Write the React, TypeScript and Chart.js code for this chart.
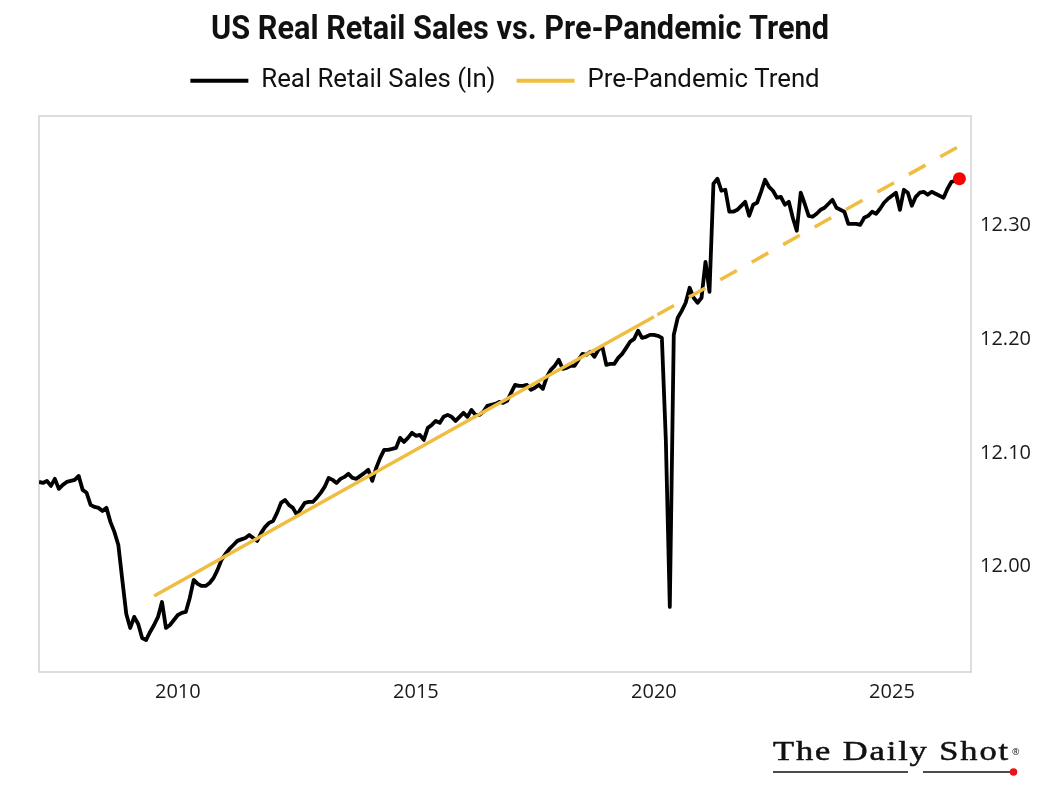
import React, { useEffect, useRef } from 'react';
import { Chart, registerables } from 'chart.js';

Chart.register(...registerables);

// ---------------- data ----------------
// Monthly series, first observation February 2007
const START_YEAR = 2007;
const START_MONTH = 2;

// ln(real retail sales), monthly
const realRetailSalesLn: number[] = [
  // 2007 (Feb-Dec)
  12.0745, 12.0736, 12.0754, 12.0710, 12.0772, 12.0684, 12.0719, 12.0745, 12.0754, 12.0763, 12.0798,
  // 2008
  12.0675, 12.0649, 12.0543, 12.0525, 12.0517, 12.0490, 12.0517, 12.0394, 12.0306, 12.0191, 11.9884, 11.9585,
  // 2009
  11.9462, 11.9559, 11.9497, 11.9374, 11.9356, 11.9427, 11.9488, 11.9559, 11.9690, 11.9462, 11.9488, 11.9532,
  // 2010
  11.9576, 11.9594, 11.9603, 11.9726, 11.9884, 11.9849, 11.9831, 11.9831, 11.9857, 11.9901, 11.9972, 12.0060,
  // 2011
  12.0112, 12.0156, 12.0191, 12.0227, 12.0240, 12.0253, 12.0279, 12.0253, 12.0227, 12.0297, 12.0350, 12.0385,
  // 2012
  12.0402, 12.0473, 12.0561, 12.0587, 12.0543, 12.0517, 12.0455, 12.0508, 12.0561, 12.0569, 12.0569, 12.0605,
  // 2013
  12.0649, 12.0701, 12.0780, 12.0763, 12.0736, 12.0772, 12.0789, 12.0816, 12.0780, 12.0772, 12.0798, 12.0824,
  // 2014
  12.0851, 12.0754, 12.0868, 12.0956, 12.1027, 12.1027, 12.1035, 12.1044, 12.1132, 12.1097, 12.1132, 12.1176,
  // 2015
  12.1150, 12.1158, 12.1114, 12.1220, 12.1246, 12.1281, 12.1264, 12.1317, 12.1334, 12.1317, 12.1281, 12.1317,
  // 2016
  12.1352, 12.1317, 12.1378, 12.1334, 12.1334, 12.1361, 12.1413, 12.1422, 12.1431, 12.1448, 12.1440, 12.1457,
  // 2017
  12.1528, 12.1598, 12.1589, 12.1589, 12.1598, 12.1554, 12.1572, 12.1598, 12.1563, 12.1668, 12.1730, 12.1765,
  // 2018
  12.1818, 12.1739, 12.1747, 12.1765, 12.1765, 12.1818, 12.1870, 12.1862, 12.1888, 12.1844, 12.1906, 12.1932,
  // 2019
  12.1774, 12.1782, 12.1782, 12.1835, 12.1870, 12.1923, 12.1976, 12.2002, 12.2073, 12.2011, 12.2020, 12.2037,
  // 2020
  12.2037, 12.2029, 12.2011, 12.1114, 11.9647, 12.2037, 12.2187, 12.2248, 12.2319, 12.2451, 12.2363, 12.2319,
  // 2021
  12.2363, 12.2679, 12.2415, 12.3365, 12.3409, 12.3303, 12.3312, 12.3119, 12.3119, 12.3136, 12.3171, 12.3206,
  // 2022
  12.3083, 12.3180, 12.3198, 12.3294, 12.3400, 12.3338, 12.3303, 12.3242, 12.3250, 12.3180, 12.3206, 12.3066,
  // 2023
  12.2952, 12.3286, 12.3189, 12.3083, 12.3075, 12.3101, 12.3136, 12.3154, 12.3189, 12.3224, 12.3154, 12.3136,
  // 2024
  12.3119, 12.3013, 12.3013, 12.3013, 12.3004, 12.3066, 12.3083, 12.3119, 12.3101, 12.3145, 12.3198, 12.3233,
  // 2025
  12.3259, 12.3286, 12.3136, 12.3312, 12.3286, 12.3171, 12.3250, 12.3286, 12.3294, 12.3268, 12.3294, 12.3277,
  // 2026
  12.3259, 12.3242, 12.3321, 12.3382, 12.3391, 12.3409,
];

// Pre-pandemic trend line: start, break (solid -> dashed), end
const trendYears: number[] = [2009.5, 2020.0, 2026.4167];
const trendValues: number[] = [11.9742, 12.2196, 12.3695];
const TREND_BREAK_YEAR = 2020;

const xTickYears: number[] = [2010, 2015, 2020, 2025];
const yTickValues: number[] = [12.0, 12.1, 12.2, 12.3];

const X_MIN = 2007.0833;
const X_MAX = 2026.66;
const Y_MIN = 11.9075;
const Y_MAX = 12.396;

const TITLE = 'US Real Retail Sales vs. Pre-Pandemic Trend';
const SERIES_LABEL = 'Real Retail Sales (ln)';
const TREND_LABEL = 'Pre-Pandemic Trend';

// ---------------- styles ----------------
const HEAD_FAMILY = '"Liberation Sans Narrow", Roboto, "Noto Sans", sans-serif';
const TICK_FAMILY = '"Open Sans", "Noto Sans", sans-serif';
const LOGO_FAMILY = '"Liberation Serif", "DejaVu Serif", serif';
const BLACK = '#000000';
const GOLD = '#EFBD40';
const RED = '#FF0000';

function measureText(font: string, text: string): number {
  const c = document.createElement('canvas').getContext('2d');
  if (!c) return 0;
  c.font = font;
  return c.measureText(text).width;
}

const decorPlugin = {
  id: 'decor',
  beforeDatasetsDraw(chart: any) {
    const { ctx, chartArea: a } = chart;
    ctx.save();
    ctx.strokeStyle = '#d2d2d2';
    ctx.lineWidth = 1.5;
    ctx.strokeRect(a.left, a.top, a.right - a.left, a.bottom - a.top);
    ctx.restore();
  },
  afterDraw(chart: any) {
    const ctx = chart.ctx;
    // Title
    ctx.save();
    ctx.font = `bold 33px ${HEAD_FAMILY}`;
    const tw = ctx.measureText(TITLE).width || 1;
    ctx.translate(520, 38.5);
    ctx.scale(618 / tw, 1);
    ctx.textAlign = 'center';
    ctx.textBaseline = 'alphabetic';
    ctx.fillStyle = '#111111';
    ctx.fillText(TITLE, 0, 0);
    ctx.restore();

    // Logo: The Daily Shot
    ctx.save();
    const logo = 'The Daily Shot';
    ctx.font = `27px ${LOGO_FAMILY}`;
    (ctx as any).letterSpacing = '1.5px';
    const lw = ctx.measureText(logo).width || 1;
    ctx.translate(773, 759.5);
    ctx.scale(237 / lw, 1);
    ctx.fillStyle = '#111111';
    ctx.strokeStyle = '#111111';
    ctx.lineWidth = 0.5;
    ctx.textAlign = 'left';
    ctx.textBaseline = 'alphabetic';
    ctx.fillText(logo, 0, 0);
    ctx.strokeText(logo, 0, 0);
    ctx.restore();

    ctx.save();
    ctx.fillStyle = '#111111';
    ctx.font = `9px ${TICK_FAMILY}`;
    ctx.fillText('®', 1012, 752);
    ctx.strokeStyle = '#111111';
    ctx.lineWidth = 1.4;
    ctx.beginPath();
    ctx.moveTo(773, 772);
    ctx.lineTo(908, 772);
    ctx.moveTo(923, 772);
    ctx.lineTo(1010, 772);
    ctx.stroke();
    ctx.fillStyle = '#E8141B';
    ctx.beginPath();
    ctx.arc(1013.5, 772, 3.8, 0, Math.PI * 2);
    ctx.fill();
    ctx.restore();
  },
};

export default function App() {
  const canvasRef = useRef<HTMLCanvasElement | null>(null);

  useEffect(() => {
    const canvas = canvasRef.current;
    if (!canvas) return;

    const base = measureText(`30px ${HEAD_FAMILY}`, SERIES_LABEL) || 270;
    let legendSize = (30 * 234.4) / base;
    legendSize = Math.max(22, Math.min(32, legendSize));
    const legendPad = 21;
    const legendTop = 80.8 - legendPad - legendSize / 2;
    const legendHeight = legendSize + legendPad + 10;
    const spacer = Math.max(2, 116 - legendTop - legendHeight);

    const salesPoints = realRetailSalesLn.map((v, i) => ({
      x: START_YEAR + (START_MONTH - 1 + i) / 12,
      y: v,
    }));
    const trendPoints = trendYears.map((yr, i) => ({ x: yr, y: trendValues[i] }));
    const last = salesPoints.length - 1;

    const chart = new Chart(canvas, {
      type: 'line',
      data: {
        datasets: [
          {
            label: SERIES_LABEL,
            data: salesPoints,
            borderColor: BLACK,
            backgroundColor: BLACK,
            borderWidth: 3.8,
            borderJoinStyle: 'round',
            tension: 0,
            pointRadius: (c: any) => (c.dataIndex === last ? 6.5 : 0),
            pointBackgroundColor: RED,
            pointBorderColor: RED,
            pointBorderWidth: 0,
            pointHoverRadius: 0,
            order: 1,
          },
          {
            label: TREND_LABEL,
            data: trendPoints,
            borderColor: GOLD,
            backgroundColor: GOLD,
            borderWidth: 3.5,
            tension: 0,
            pointRadius: 0,
            pointHoverRadius: 0,
            order: 0,
            segment: {
              borderDash: (c: any) => (c.p0.parsed.x >= TREND_BREAK_YEAR ? [19, 17] : undefined),
              borderDashOffset: (c: any) => (c.p0.parsed.x >= TREND_BREAK_YEAR ? 32 : undefined),
            },
          },
        ] as any,
      },
      options: {
        responsive: false,
        animation: false,
        events: [],
        layout: { padding: { left: 39, right: 0, top: legendTop, bottom: 0 } },
        plugins: {
          title: { display: false },
          subtitle: {
            display: true,
            text: '',
            weight: 500,
            position: 'top',
            font: { size: 2, lineHeight: 1 },
            padding: { top: spacer - 2, bottom: 0 },
          } as any,
          legend: {
            display: true,
            position: 'top',
            align: 'center',
            fullSize: false,
            labels: {
              boxWidth: 58,
              boxHeight: 4,
              padding: legendPad,
              color: '#111111',
              font: { family: HEAD_FAMILY, size: legendSize },
              generateLabels: (ch: any) => {
                const items = (Chart.defaults as any).plugins.legend.labels.generateLabels(ch);
                return items
                  .map((it: any) => ({ ...it, fillStyle: it.strokeStyle, lineWidth: 0, lineDash: [] }))
                  .sort((a: any, b: any) => a.datasetIndex - b.datasetIndex);
              },
            },
          },
          tooltip: { enabled: false },
        },
        scales: {
          x: {
            type: 'linear',
            min: X_MIN,
            max: X_MAX,
            grid: { display: false, drawTicks: false },
            border: { display: false },
            ticks: {
              padding: 8,
              color: '#1a1a1a',
              maxRotation: 0,
              font: { family: TICK_FAMILY, size: 20 },
              callback: (v: any) => String(v),
            },
            afterBuildTicks: (axis: any) => {
              axis.ticks = xTickYears.map((v) => ({ value: v }));
            },
            afterFit: (axis: any) => {
              axis.height = 124;
            },
          },
          y: {
            type: 'linear',
            position: 'right',
            min: Y_MIN,
            max: Y_MAX,
            grid: { display: false, drawTicks: false },
            border: { display: false },
            ticks: {
              padding: 9,
              color: '#1a1a1a',
              font: { family: TICK_FAMILY, size: 20 },
              callback: (v: any) => Number(v).toFixed(2),
            },
            afterBuildTicks: (axis: any) => {
              axis.ticks = yTickValues.map((v) => ({ value: v }));
            },
            afterFit: (axis: any) => {
              axis.width = 69;
            },
          },
        },
      } as any,
      plugins: [decorPlugin],
    });

    return () => {
      chart.destroy();
    };
  }, []);

  return (
    <div style={{ position: 'absolute', left: 0, top: 0, width: 1040, height: 796, background: '#ffffff' }}>
      <canvas ref={canvasRef} width={1040} height={796} style={{ display: 'block', width: 1040, height: 796 }} />
    </div>
  );
}
